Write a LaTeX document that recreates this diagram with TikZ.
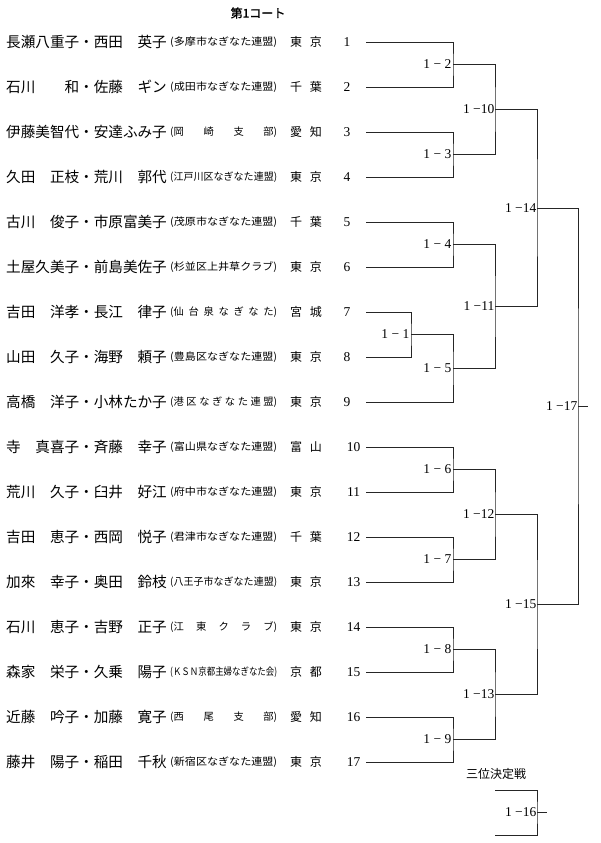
\documentclass[tikz,border=0pt]{standalone}
\usepackage{fontspec}
\usepackage{graphicx}
\newfontfamily\jp{Noto Sans CJK JP}
\newfontfamily\jpb{Noto Sans CJK JP}[FakeBold=1.2]
\newfontfamily\dg{Liberation Serif}
\newcommand\affw[1]{\resizebox{107pt}{\height}{(#1)}}
\newcommand\affs[1]{\makebox[107pt][s]{(#1)}}
\tikzset{
  nm/.style={anchor=west,inner sep=0pt,font=\jp\fontsize{14.6}{16}\selectfont},
  af/.style={anchor=west,inner sep=0pt,font=\jp\fontsize{10.3}{12}\selectfont},
  pf/.style={inner sep=0pt,font=\jp\fontsize{12}{14}\selectfont},
  nu/.style={inner sep=0pt,font=\dg\fontsize{13.5}{15}\selectfont},
  lbl/.style={anchor=east,inner sep=1.5pt,font=\dg\fontsize{13.5}{15}\selectfont},
  hd/.style={inner sep=0pt,font=\jp\fontsize{12}{14}\selectfont},
  hdb/.style={inner sep=0pt,font=\jpb\fontsize{12}{14}\selectfont},
  br/.style={draw=black!85,line width=0.8pt},
}
\newcommand\entry[5]{%
  \node[nm] (n#1) at (6,#2) {#3};
  \node[af] (a#1) at (170,#2) {#4};
  \node[pf] (p#1) at (306,#2) {\makebox[32pt][s]{#5}};
  \ifnum#1<10 \node[nu] (k#1) at (347,#2) {#1};\else \node[nu] (k#1) at (353.5,#2) {#1};\fi
  \coordinate (e#1) at (366,#2);
}
\begin{document}
\begin{tikzpicture}[x=1pt,y=-1pt]
\useasboundingbox (0,0) rectangle (600,843);
\node[hdb] (title) at (258,13) {第1コート};
\entry{1}{42}{長瀬八重子・西田　英子}{\affw{多摩市なぎなた連盟}}{東\hfill 京}
\entry{2}{87}{石川　　和・佐藤　ギン}{\affw{成田市なぎなた連盟}}{千\hfill 葉}
\entry{3}{132}{伊藤美智代・安達ふみ子}{\affs{岡\hfill 崎\hfill 支\hfill 部}}{愛\hfill 知}
\entry{4}{177}{久田　正枝・荒川　郭代}{\affw{江戸川区なぎなた連盟}}{東\hfill 京}
\entry{5}{222}{古川　俊子・市原富美子}{\affw{茂原市なぎなた連盟}}{千\hfill 葉}
\entry{6}{267}{土屋久美子・前島美佐子}{\affw{杉並区上井草クラブ}}{東\hfill 京}
\entry{7}{312}{吉田　洋孝・長江　律子}{\affs{仙\hfill 台\hfill 泉\hfill な\hfill ぎ\hfill な\hfill た}}{宮\hfill 城}
\entry{8}{357}{山田　久子・海野　頼子}{\affw{豊島区なぎなた連盟}}{東\hfill 京}
\entry{9}{402}{高橋　洋子・小林たか子}{\affs{港\hfill 区\hfill な\hfill ぎ\hfill な\hfill た\hfill 連\hfill 盟}}{東\hfill 京}
\entry{10}{447}{寺　真喜子・斉藤　幸子}{\affw{富山県なぎなた連盟}}{富\hfill 山}
\entry{11}{492}{荒川　久子・臼井　好江}{\affw{府中市なぎなた連盟}}{東\hfill 京}
\entry{12}{537}{吉田　恵子・西岡　悦子}{\affw{君津市なぎなた連盟}}{千\hfill 葉}
\entry{13}{582}{加來　幸子・奥田　鈴枝}{\affw{八王子市なぎなた連盟}}{東\hfill 京}
\entry{14}{627}{石川　恵子・吉野　正子}{\affs{江\hfill 東\hfill ク\hfill ラ\hfill ブ}}{東\hfill 京}
\entry{15}{672}{森家　栄子・久乗　陽子}{\affw{ＫＳＮ京都主婦なぎなた会}}{京\hfill 都}
\entry{16}{717}{近藤　吟子・加藤　寛子}{\affs{西\hfill 尾\hfill 支\hfill 部}}{愛\hfill 知}
\entry{17}{762}{藤井　陽子・稲田　千秋}{\affw{新宿区なぎなた連盟}}{東\hfill 京}
% match points
\coordinate (m1) at (411,334.5);
\coordinate (m2) at (453,64.5);
\coordinate (m3) at (453,154.5);
\coordinate (m4) at (453,244.5);
\coordinate (m5) at (453,368.25);
\coordinate (m6) at (453,469.5);
\coordinate (m7) at (453,559.5);
\coordinate (m8) at (453,649.5);
\coordinate (m9) at (453,739.5);
\coordinate (m10) at (495,109.5);
\coordinate (m11) at (495,306.4);
\coordinate (m12) at (495,514.5);
\coordinate (m13) at (495,694.5);
\coordinate (m14) at (537,207.9);
\coordinate (m15) at (537,604.5);
\coordinate (m17) at (578,406.2);
\coordinate (w17) at (588,406.2);
% brackets
\draw[br] (e7) -| (m1) |- (e8);
\draw[br] (e1) -| (m2) |- (e2);
\draw[br] (e3) -| (m3) |- (e4);
\draw[br] (e5) -| (m4) |- (e6);
\draw[br] (m1) -| (m5) |- (e9);
\draw[br] (e10) -| (m6) |- (e11);
\draw[br] (e12) -| (m7) |- (e13);
\draw[br] (e14) -| (m8) |- (e15);
\draw[br] (e16) -| (m9) |- (e17);
\draw[br] (m2) -| (m10) |- (m3);
\draw[br] (m4) -| (m11) |- (m5);
\draw[br] (m6) -| (m12) |- (m7);
\draw[br] (m8) -| (m13) |- (m9);
\draw[br] (m10) -| (m14) |- (m11);
\draw[br] (m12) -| (m15) |- (m13);
\draw[br] (m14) -| (m17) |- (m15);
\draw[br] (m17) -- (w17);
% labels
\node[lbl] (l1) at (m1) {1 − 1};
\node[lbl] (l2) at (m2) {1 − 2};
\node[lbl] (l3) at (m3) {1 − 3};
\node[lbl] (l4) at (m4) {1 − 4};
\node[lbl] (l5) at (m5) {1 − 5};
\node[lbl] (l6) at (m6) {1 − 6};
\node[lbl] (l7) at (m7) {1 − 7};
\node[lbl] (l8) at (m8) {1 − 8};
\node[lbl] (l9) at (m9) {1 − 9};
\node[lbl,inner sep=0.5pt] (l10) at (m10) {1 −10};
\node[lbl,inner sep=0.5pt] (l11) at (m11) {1 −11};
\node[lbl,inner sep=0.5pt] (l12) at (m12) {1 −12};
\node[lbl,inner sep=0.5pt] (l13) at (m13) {1 −13};
\node[lbl,inner sep=0.5pt] (l14) at (m14) {1 −14};
\node[lbl,inner sep=0.5pt] (l15) at (m15) {1 −15};
\node[lbl,inner sep=0.5pt] (l17) at (m17) {1 −17};
% third place
\node[hd] (third) at (496,774) {三位決定戦};
\coordinate (t1) at (495,790);
\coordinate (t2) at (495,835);
\coordinate (m16) at (537,812.5);
\coordinate (w16) at (547,812.5);
\draw[br] (t1) -| (m16) |- (t2);
\draw[br] (m16) -- (w16);
\node[lbl,inner sep=0.5pt] (l16) at (m16) {1 −16};
\end{tikzpicture}
\end{document}
